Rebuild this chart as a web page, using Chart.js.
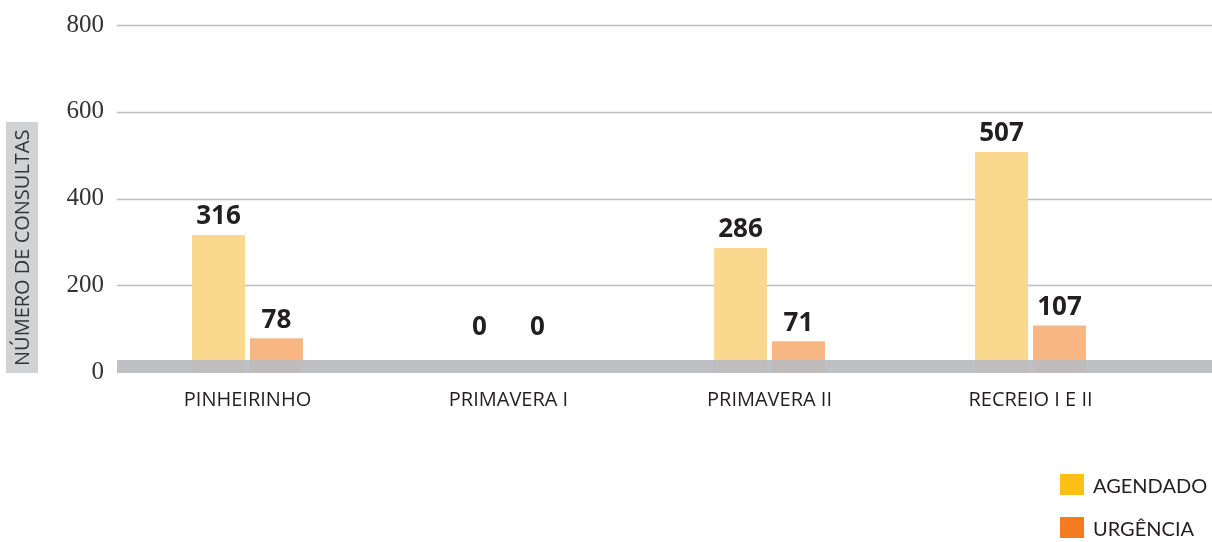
<!DOCTYPE html>
<html>
<head>
<meta charset="utf-8">
<script src="https://cdn.jsdelivr.net/npm/chart.js@4"></script>
<style>
  body { margin: 0; background: #fff; }
  #wrap { position: relative; width: 1212px; height: 542px; }
  #axis-title {
    position: absolute; left: 6px; top: 122px; width: 32px; height: 251px;
    background: #d1d2d4; color: #333;
    font: 20px 'Open Sans', sans-serif;
    writing-mode: vertical-rl; transform: rotate(180deg);
    display: flex; align-items: center; justify-content: center;
    white-space: nowrap;
  }
  #legend { position: absolute; left: 1060px; top: 474px; font: 20px Lato, sans-serif; color: #231f20; }
  .item { display: flex; align-items: center; height: 21px; margin-bottom: 22px; }
  .box { width: 24px; height: 21px; margin-right: 9px; }
</style>
</head>
<body>
<div id="wrap">
  <canvas id="chart" width="1212" height="542"></canvas>
  <div id="axis-title">NÚMERO DE CONSULTAS</div>
  <div id="legend"></div>
</div>
<script>
const categories = ["PINHEIRINHO", "PRIMAVERA I", "PRIMAVERA II", "RECREIO I E II"];
const agendado = [316, 0, 286, 507];
const urgencia = [78, 0, 71, 107];
const yTicks = [0, 200, 400, 600, 800];
const seriesNames = ["AGENDADO", "URGÊNCIA"];
const barColors = ["#fad98e", "#f8b682"];
const legendColors = ["#fbbf16", "#f47b20"];

// gridlines across the full width + grey base band
const backdrop = {
  id: "backdrop",
  beforeDatasetsDraw(chart) {
    const { ctx, chartArea, scales } = chart;
    ctx.save();
    ctx.strokeStyle = "#bdbdbd";
    ctx.lineWidth = 1.5;
    yTicks.forEach((t) => {
      if (t === 0) return;
      const y = Math.round(scales.y.getPixelForValue(t)) + 0.5;
      ctx.beginPath();
      ctx.moveTo(chartArea.left, y);
      ctx.lineTo(chart.width, y);
      ctx.stroke();
    });
    ctx.restore();
  },
  afterDatasetsDraw(chart) {
    const { ctx, chartArea, scales } = chart;
    const y0 = scales.y.getPixelForValue(0) + 1;
    ctx.save();
    ctx.fillStyle = "rgba(186,187,191,0.93)";
    ctx.fillRect(chartArea.left, y0 - 13, chart.width - chartArea.left, 13);

    // value labels (zeros sit a bit above the band)
    ctx.fillStyle = "#231f20";
    ctx.font = "bold 26px 'Open Sans', sans-serif";
    ctx.textAlign = "center";
    ctx.textBaseline = "bottom";
    const minY = scales.y.getPixelForValue(60);
    chart.data.datasets.forEach((ds, i) => {
      chart.getDatasetMeta(i).data.forEach((bar, j) => {
        const y = Math.min(bar.y, minY) - 5;
        ctx.fillText(String(ds.data[j]), bar.x, y);
      });
    });
    ctx.restore();
  },
};

new Chart(document.getElementById("chart"), {
  type: "bar",
  data: {
    labels: categories,
    datasets: [
      { label: seriesNames[0], data: agendado, backgroundColor: barColors[0] },
      { label: seriesNames[1], data: urgencia, backgroundColor: barColors[1] },
    ],
  },
  options: {
    responsive: false,
    animation: false,
    categoryPercentage: 0.444,
    barPercentage: 0.914,
    layout: { padding: { top: 25, right: 51, left: 0, bottom: 122 } },
    plugins: { legend: { display: false }, tooltip: { enabled: false } },
    scales: {
      x: {
        grid: { display: false },
        border: { display: false },
        ticks: {
          color: "#231f20",
          padding: 8,
          font: { family: "'Open Sans', sans-serif", size: 20 },
        },
      },
      y: {
        min: 0,
        max: 800,
        afterFit(scale) { scale.width = 117; },
        afterBuildTicks(scale) { scale.ticks = yTicks.map((v) => ({ value: v })); },
        grid: { display: false },
        border: { display: false },
        ticks: {
          color: "#333",
          padding: 5,
          font: { family: "'Liberation Serif', serif", size: 25 },
        },
      },
    },
  },
  plugins: [backdrop],
});

const legend = document.getElementById("legend");
seriesNames.forEach((name, i) => {
  const item = document.createElement("div");
  item.className = "item";
  item.innerHTML = `<div class="box" style="background:${legendColors[i]}"></div><span>${name}</span>`;
  legend.appendChild(item);
});
</script>
</body>
</html>
